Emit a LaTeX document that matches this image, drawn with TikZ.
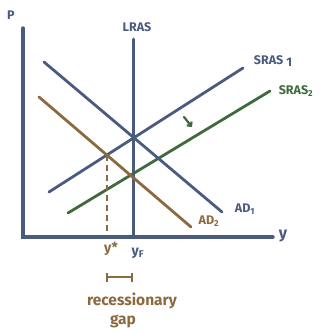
\documentclass[tikz,border=0pt]{standalone}
\usepackage{fontspec}
\setmainfont{Fira Sans}
\usetikzlibrary{positioning,arrows.meta}
\definecolor{slate}{HTML}{4A5B80}
\definecolor{brwn}{HTML}{8C6A40}
\definecolor{grn}{HTML}{3F6A3D}
\tikzset{
  every node/.append style={inner sep=0pt},
  axis/.style={line width=3.4pt, draw=slate, line cap=round},
  curve/.style={line width=2.8pt, line cap=round},
  lbl/.style={font=\fontsize{12.5}{13}\selectfont\bfseries},
  gaplbl/.style={font=\fontsize{15.5}{16}\selectfont\bfseries, text=brwn},
  shiftarr/.style={-{Straight Barb[length=3pt,width=6pt]}, line width=2.2pt, draw=grn, line cap=round},
}

\begin{document}
\begin{tikzpicture}[x=1pt,y=-1pt]
  \useasboundingbox (0,0) rectangle (323,333);
  % axes
  \coordinate (orig) at (23,237);
  \coordinate (ptop) at (23,28);
  \coordinate (yend) at (273,237);
  \draw[axis] (ptop) -- (orig) -- (yend);
  \node[lbl, text=slate] (plbl) at (11,15) {P};
  \node[lbl, text=slate, font=\fontsize{16}{16}\selectfont\bfseries] (ylbl) at (283,236) {y};

  % long run
  \coordinate (lrtop) at (133,39);
  \coordinate (lrbot) at (133,237);
  \draw[axis, line width=3pt] (lrtop) -- (lrbot);
  \node[lbl, text=slate] (lrlbl) at (137,27) {LRAS};

  % short run supply
  \coordinate (s1a) at (49,192);
  \coordinate (s1b) at (243,68);
  \draw[curve, draw=slate] (s1a) -- (s1b);
  \node[lbl, text=slate] (s1lbl) at (273,61) {SRAS \raisebox{-2pt}{1}};
  \coordinate (s2a) at (68,213);
  \coordinate (s2b) at (270,91);
  \draw[curve, draw=grn] (s2a) -- (s2b);
  \node[lbl, text=grn] (s2lbl) at (296,91) {SRAS\textsubscript{2}};

  % demand
  \coordinate (d1a) at (44,62);
  \coordinate (d1b) at (222,212);
  \draw[curve, draw=slate] (d1a) -- (d1b);
  \node[lbl, text=slate] (d1lbl) at (245,209) {AD\textsubscript{1}};
  \coordinate (d2a) at (39,97);
  \coordinate (d2b) at (191,227);
  \draw[curve, draw=brwn] (d2a) -- (d2b);
  \node[lbl, text=brwn] (d2lbl) at (209,221) {AD\textsubscript{2}};

  % output below potential
  \coordinate (ystar) at (107,155);
  \coordinate (ystarb) at (107,235);
  \draw[brwn, line width=1.8pt, dash pattern=on 6pt off 4pt] (ystar) -- (ystarb);
  \node[lbl, text=brwn, font=\fontsize{14}{14}\selectfont\bfseries] (yslbl) at (111,249) {y*};
  \node[lbl, text=slate, font=\fontsize{14}{14}\selectfont\bfseries] (yflbl) at (138,253) {y\textsubscript{F}};

  \coordinate (arra) at (184,117);
  \coordinate (arrb) at (192,127);
  \draw[shiftarr] (arra) -- (arrb);

  \coordinate (gapl) at (106,277);
  \coordinate (gapr) at (133,277);
  \draw[brwn, line width=1.8pt, {Bar[width=9pt]}-{Bar[width=9pt]}] (gapl) -- (gapr);
  \node[gaplbl] (rec) at (132,301) {recessionary};
  \node[gaplbl] (gap) at (123,321) {gap};
\end{tikzpicture}
\end{document}
